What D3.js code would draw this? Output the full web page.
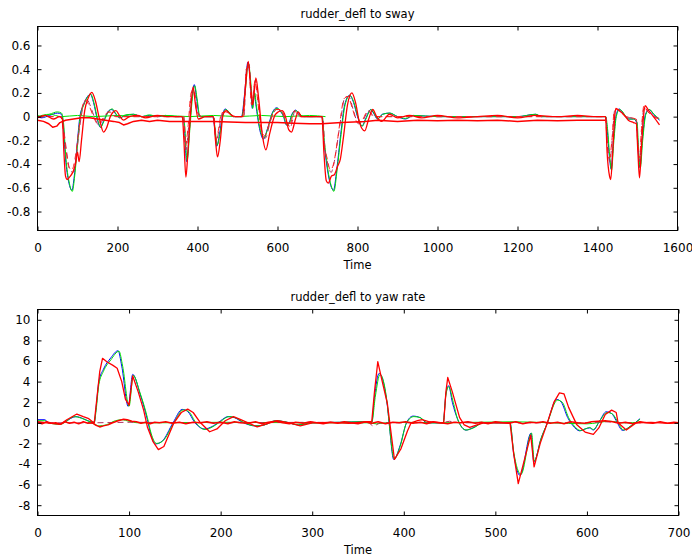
<!DOCTYPE html>
<html>
<head>
<meta charset="utf-8">
<script src="https://cdn.jsdelivr.net/npm/d3@7"></script>
<style>
  body { margin: 0; background: #fff; }
  text { font-family: "DejaVu Sans", Verdana, sans-serif; }
</style>
</head>
<body>
<svg id="chart" width="692" height="556"></svg>
<script>
// ---------- data: [time, value] pairs ----------

// panel 1: rudder_defl to sway
const swayTicksX = [0, 200, 400, 600, 800, 1000, 1200, 1400, 1600];
const swayTicksY = [-0.8, -0.6, -0.4, -0.2, 0, 0.2, 0.4, 0.6];

const swayBlue = [[0,0],[10,-0.01],[30,0.01],[50,0.03],[60,0.02],[64,-0.05],[70,-0.35],[78,-0.55],[86,-0.62],[92,-0.5],[100,-0.2],[106,0],[115,0.1],[125,0.17],[132,0.19],[140,0.12],[150,-0.03],[157,-0.09],[165,-0.04],[178,0.05],[186,0.06],[196,0.02],[205,-0.01],[220,0.01],[240,0.02],[260,0],[280,0.01],[300,0],[320,0.01],[345,0],[360,0],[366,-0.05],[373,-0.38],[380,-0.1],[386,0.15],[392,0.27],[398,0.15],[405,0],[420,0],[438,0],[443,-0.1],[448,-0.25],[455,-0.15],[462,0],[469,0.065],[478,0.04],[490,0],[510,0],[518,0.2],[526,0.46],[532,0.3],[537,0.07],[542,0.2],[546,0.1],[555,-0.1],[565,-0.19],[575,-0.1],[588,0.04],[598,0.075],[606,0.05],[615,0],[622,-0.07],[628,-0.06],[636,0.02],[645,0.055],[655,0.02],[665,0],[700,0],[711,0],[716,-0.2],[725,-0.45],[733,-0.58],[740,-0.62],[748,-0.45],[758,-0.15],[768,0.1],[780,0.18],[790,0.12],[800,0],[811,-0.08],[820,-0.02],[833,0.06],[840,0.03],[850,-0.02],[862,0.02],[880,0.03],[900,0],[920,-0.02],[940,0.01],[1000,0],[1100,0],[1200,0],[1245,0.02],[1260,0],[1300,0],[1420,0],[1424,-0.1],[1430,-0.35],[1434,-0.44],[1440,-0.2],[1446,0],[1454,0.065],[1462,0.04],[1470,0],[1478,-0.02],[1490,-0.02],[1498,-0.05],[1502,-0.3],[1506,-0.43],[1512,-0.2],[1520,0.02],[1529,0.06],[1540,0.02],[1555,-0.03]];

const swayGreen = [[0,0.01],[10,0],[30,0.02],[50,0.04],[60,0.03],[65,-0.05],[71,-0.35],[79,-0.55],[87,-0.63],[93,-0.5],[101,-0.2],[107,0],[116,0.1],[126,0.17],[133,0.19],[141,0.12],[151,-0.03],[158,-0.09],[166,-0.04],[179,0.05],[187,0.065],[197,0.02],[206,-0.01],[220,0.015],[240,0.02],[260,0],[280,0.015],[300,0],[320,0.01],[345,0],[361,0],[367,-0.05],[374,-0.37],[381,-0.1],[387,0.15],[393,0.26],[399,0.15],[406,0],[420,0],[439,0],[444,-0.1],[449,-0.24],[456,-0.15],[463,0],[470,0.06],[479,0.04],[490,0],[511,0],[519,0.2],[527,0.45],[533,0.3],[538,0.07],[543,0.2],[547,0.1],[556,-0.1],[566,-0.18],[576,-0.1],[589,0.04],[599,0.07],[607,0.05],[616,0],[623,-0.07],[629,-0.06],[637,0.02],[646,0.05],[656,0.02],[666,0],[700,0],[712,0],[717,-0.2],[726,-0.45],[734,-0.58],[741,-0.63],[749,-0.45],[759,-0.15],[769,0.1],[781,0.18],[791,0.12],[801,0],[812,-0.08],[821,-0.02],[834,0.06],[841,0.03],[851,-0.02],[863,0.02],[881,0.03],[900,0],[920,-0.015],[940,0.01],[1000,0],[1100,0],[1200,0],[1246,0.02],[1260,0],[1300,0],[1421,0],[1425,-0.1],[1431,-0.35],[1435,-0.45],[1441,-0.2],[1447,0],[1455,0.06],[1463,0.04],[1471,0],[1479,-0.02],[1491,-0.02],[1499,-0.05],[1503,-0.3],[1507,-0.43],[1513,-0.2],[1521,0.02],[1530,0.06],[1541,0.02],[1555,-0.02]];

const swayRed = [[0,-0.01],[20,0.01],[40,-0.02],[55,0],[62,-0.02],[66,-0.3],[70,-0.5],[74,-0.53],[80,-0.51],[88,-0.47],[95,-0.4],[100,-0.3],[104,-0.38],[110,-0.2],[118,0.05],[126,0.15],[136,0.205],[145,0.13],[155,-0.02],[165,-0.13],[172,-0.1],[182,0],[196,0.05],[205,0.01],[215,-0.03],[230,0],[250,0.01],[270,-0.01],[300,0.01],[330,0],[362,0],[366,-0.2],[371,-0.51],[376,-0.3],[382,0],[389,0.25],[395,0.1],[402,-0.02],[420,0],[440,0],[445,-0.2],[450,-0.34],[457,-0.2],[464,0.02],[472,0.05],[482,0.02],[495,0],[512,0],[520,0.25],[527,0.466],[533,0.25],[538,0.1],[546,0.326],[553,0.15],[562,-0.15],[571,-0.28],[580,-0.15],[595,0.02],[612,0.05],[620,0],[628,-0.11],[635,-0.13],[645,-0.02],[652,0.04],[660,0],[700,0],[711,0],[716,-0.3],[722,-0.54],[727,-0.56],[735,-0.5],[742,-0.49],[750,-0.42],[757,-0.36],[765,-0.17],[775,0.1],[786,0.2],[795,0.12],[805,-0.05],[818,-0.12],[828,-0.02],[838,0.06],[848,0],[860,-0.04],[880,0.02],[900,-0.01],[930,0.01],[960,-0.01],[1000,0.01],[1050,-0.01],[1100,0],[1150,0.01],[1200,-0.01],[1245,0.01],[1300,0],[1350,0.01],[1400,0],[1420,0],[1424,-0.3],[1430,-0.5],[1433,-0.53],[1438,-0.3],[1443,0],[1446,0.07],[1455,0.05],[1465,0.02],[1477,-0.03],[1490,-0.05],[1497,-0.06],[1501,-0.3],[1505,-0.516],[1510,-0.25],[1515,0],[1519,0.093],[1528,0.05],[1540,0],[1555,-0.07]];

const swayRedFlat = [[0,-0.03],[15,-0.04],[28,-0.06],[38,-0.09],[48,-0.08],[56,-0.05],[70,-0.03],[90,-0.02],[110,-0.01],[130,-0.01],[150,-0.02],[170,-0.03],[190,-0.04],[205,-0.05],[215,-0.07],[225,-0.06],[240,-0.04],[260,-0.03],[280,-0.04],[300,-0.03],[330,-0.04],[360,-0.04],[400,-0.04],[440,-0.04],[480,-0.045],[520,-0.05],[560,-0.05],[600,-0.05],[640,-0.055],[680,-0.06],[711,-0.06],[760,-0.05],[820,-0.04],[850,-0.03],[900,-0.04],[950,-0.03],[1000,-0.035],[1050,-0.03],[1100,-0.035],[1150,-0.03],[1200,-0.04],[1250,-0.03],[1300,-0.035],[1350,-0.03],[1400,-0.03],[1420,-0.03]];

const swayGreenFlat = [[0,0],[30,0.02],[60,0],[100,0.01],[140,0],[200,0.01],[260,0],[320,0.01],[380,0],[440,0.01],[500,0],[560,0.01],[620,0],[680,0.01],[720,0]];

const swayDashRed = [[0,0],[58,0],[64,-0.1],[70,-0.25],[78,-0.42],[86,-0.45],[94,-0.35],[102,-0.15],[110,0.05],[120,0.14],[128,0.1],[140,0],[150,-0.06],[162,-0.02],[178,0.04],[195,0],[365,0],[370,-0.25],[376,-0.1],[384,0.2],[390,0.22],[398,0.05],[410,0],[440,0],[446,-0.2],[452,-0.12],[460,0.03],[470,0.04],[490,0],[515,0],[522,0.4],[528,0.42],[535,0.1],[544,0.3],[550,0.15],[560,-0.12],[568,-0.16],[580,-0.05],[596,0.06],[608,0.06],[620,-0.03],[630,-0.08],[642,0.05],[655,0],[712,0],[716,-0.22],[724,-0.35],[732,-0.45],[740,-0.4],[750,-0.2],[758,0],[766,0.15],[776,0.17],[788,0.06],[800,-0.05],[812,-0.03],[826,0.05],[840,0],[1420,0],[1424,-0.22],[1430,-0.35],[1436,-0.2],[1442,0.05],[1450,0.06],[1470,0],[1496,-0.02],[1500,-0.2],[1505,-0.35],[1510,-0.1],[1516,0.09],[1524,0.05],[1540,0],[1555,-0.02]];

const swayDashMaroon = [[0,0],[60,0],[66,-0.12],[73,-0.3],[81,-0.45],[89,-0.47],[97,-0.33],[105,-0.1],[113,0.07],[123,0.15],[131,0.1],[143,-0.01],[153,-0.07],[165,-0.02],[180,0.04],[198,0],[366,0],[371,-0.28],[378,-0.08],[386,0.22],[391,0.24],[400,0.04],[412,0],[441,0],[447,-0.22],[454,-0.1],[462,0.03],[472,0.04],[492,0],[516,0],[523,0.42],[529,0.44],[536,0.12],[545,0.31],[552,0.12],[562,-0.14],[570,-0.18],[582,-0.04],[598,0.06],[610,0.05],[622,-0.04],[632,-0.09],[644,0.05],[658,0],[713,0],[718,-0.24],[726,-0.4],[734,-0.47],[742,-0.38],[752,-0.16],[760,0.02],[768,0.16],[778,0.17],[790,0.05],[802,-0.06],[814,-0.03],[828,0.05],[842,0],[1421,0],[1425,-0.24],[1431,-0.38],[1437,-0.18],[1443,0.05],[1452,0.05],[1472,0],[1497,-0.02],[1501,-0.22],[1506,-0.38],[1511,-0.08],[1517,0.08],[1526,0.04],[1542,0],[1555,-0.01]];

// panel 2: rudder_defl to yaw rate
const yawTicksX = [0, 100, 200, 300, 400, 500, 600, 700];
const yawTicksY = [-8, -6, -4, -2, 0, 2, 4, 6, 8, 10];

const yawBlue = [[0,0.3],[8,0.3],[12,0],[25,-0.1],[30,0.1],[42,0.6],[50,0.4],[58,0.1],[62,0.05],[64,1.5],[67,4],[72,5.2],[80,6.3],[88,7],[92,5.5],[99,1.6],[104,4.7],[112,2.8],[120,0.3],[124,-1.2],[129,-2.05],[136,-1.8],[148,0],[158,1.3],[164,1.1],[172,0],[182,-0.6],[192,-0.3],[200,0.2],[208,0.6],[215,0.5],[225,0],[238,-0.3],[248,-0.2],[260,0.2],[270,0.1],[285,-0.2],[300,0],[330,0.05],[355,0.1],[365,0.05],[368,2.5],[373,4.8],[382,1.7],[384,0],[389,-3.56],[396,-2.2],[403,0],[410,0.65],[418,0.5],[425,0],[443,0],[446,2.8],[449,3.6],[453,2],[459,0.3],[468,-0.71],[475,-0.5],[487,0],[516,0],[520,-3],[527,-5.1],[539,-1],[542,-3.8],[550,-1.5],[556,-0.2],[567,2.27],[572,2],[579,0.5],[585,-0.3],[592,-0.78],[598,-0.6],[603,-0.5],[607,-0.7],[614,0.2],[621,1.07],[627,0.9],[632,0.2],[639,-0.74],[648,-0.3],[658,0.4]];

const yawGreen = [[0,0.2],[8,0.2],[12,0],[25,-0.15],[30,0.05],[40,0.6],[48,0.45],[56,0.15],[62,0.05],[64,1.2],[67,3.7],[72,5],[80,6.1],[89,6.95],[93,5.5],[100,1.6],[104.5,4.6],[112,2.9],[120,0.5],[124,-1],[130,-2],[137,-1.75],[149,0],[159,1.25],[165,1.1],[173,0],[183,-0.65],[193,-0.3],[201,0.2],[209,0.6],[216,0.5],[226,0],[238,-0.3],[248,-0.2],[260,0.2],[270,0.1],[285,-0.2],[300,0],[330,0.05],[355,0.1],[365,0.05],[369,2.6],[374,4.7],[382,1.8],[384,0],[389.5,-3.5],[396,-2.3],[403,0],[411,0.6],[418,0.5],[426,0],[443,0],[446,2.7],[449,3.5],[454,2],[459,0.3],[468,-0.7],[476,-0.5],[487,0],[516,0],[520,-2.8],[528,-5],[539.5,-1],[542.5,-3.7],[550,-1.5],[556,-0.2],[568,2.2],[573,2],[580,0.5],[586,-0.3],[593,-0.75],[598,-0.6],[603,-0.45],[607,-0.65],[614,0.2],[622,1],[628,0.85],[633,0.2],[640,-0.7],[648,-0.3],[658,0.35]];

const yawRed = [[0,0.1],[10,0],[25,-0.15],[32,0.3],[43,0.85],[50,0.6],[56,0.4],[60,0.1],[62,0],[65,2.5],[68,5],[71,6.26],[76,5.9],[82,5.6],[87,5.3],[92,4],[96,2.3],[100,1.7],[104,4.55],[110,3],[116,1.2],[120,-0.4],[126,-1.8],[132,-2.6],[138,-2.3],[149,0],[157,1],[164,1.33],[170,1],[178,0],[188,-0.87],[196,-0.6],[205,0.2],[214,0.6],[222,0.3],[230,0],[240,-0.4],[250,-0.1],[262,0.2],[275,0],[287,-0.3],[300,0],[320,0.05],[340,-0.05],[360,0.1],[365,0.1],[368,3],[371.6,5.93],[376,4.2],[382,1.9],[384,0.5],[389.8,-3.56],[397,-2.5],[404,-0.8],[408,0],[415,0.2],[420,0.3],[428,0.1],[440,0],[443.6,0],[446,3],[448,4.4],[453,3],[461,0.5],[466,-0.2],[472,-0.45],[480,-0.2],[487,0],[516,0],[520,-3],[525,-5.9],[532,-3.5],[538.6,-1.2],[542.3,-4.28],[549,-2],[556,-0.2],[564,2],[570,2.9],[575,2.8],[580,1.5],[589,-0.2],[598,-0.9],[607,-1.13],[613,-0.5],[620,0.8],[627,1.23],[632,1],[634,0],[643,-0.7],[654,0],[670,0.05],[690,-0.05],[700,0]];

const yawRedFlat = [[0,0.05],[5,-0.1],[10,0.1],[15,-0.05],[20,0],[25,-0.15],[30,0.1],[35,-0.05],[40,0.05],[45,-0.1],[50,0.1],[55,-0.05],[60,0],[64,-0.25],[68,-0.4],[72,-0.3],[77,-0.2],[82,0],[88,0.2],[94,0.35],[98,0.3],[103,0.15],[108,0.1],[113,-0.05],[118,0.05],[123,-0.1],[128,0.05],[133,0],[140,0.1],[147,-0.05],[155,0.05],[162,-0.1],[170,0.05],[178,0],[185,0.1],[192,-0.05],[200,0.05],[208,-0.1],[215,0.1],[222,0],[230,-0.05],[238,0.1],[245,-0.1],[252,0.05],[260,0.15],[268,0],[275,-0.1],[282,0.05],[290,-0.05],[298,0.1],[305,0],[312,-0.1],[320,0.05],[328,-0.05],[335,0.1],[342,0],[350,-0.1],[358,0.1],[365,-0.05],[372,0.1],[380,-0.1],[388,0.05],[395,0],[402,0.1],[410,-0.05],[418,0.05],[425,-0.1],[432,0.1],[440,0],[448,-0.1],[455,0.05],[462,0],[470,0.1],[478,-0.05],[485,0.05],[492,-0.1],[500,0.1],[508,0],[515,-0.05],[522,0.1],[530,-0.1],[538,0.05],[545,0],[552,0.1],[560,-0.05],[568,0.05],[575,-0.1],[582,0.1],[590,0],[598,-0.05],[605,0.1],[612,0.15],[620,0.2],[628,0.1],[635,-0.05],[642,0.05],[650,-0.1],[658,0.1],[665,0],[672,-0.05],[680,0.1],[688,-0.05],[695,0.05],[700,0]];

const yawGreenFlat = [[55,0.05],[62,-0.1],[67,-0.3],[75,-0.2],[85,0.2],[92,0.3],[100,0.15],[110,0],[130,0],[200,0.05],[300,0],[360,0],[370,-0.1],[380,0],[400,0.05],[440,0],[520,0.1],[560,0],[600,-0.1],[625,0.15],[640,0],[660,0.05]];

const yawDashMaroon = [[0,0],[60,0],[100,0.05],[200,0],[300,0.05],[362,0],[366,-0.3],[370,-0.2],[374,0],[440,0],[450,0.15],[460,0],[515,0],[520,0.15],[525,0],[600,0],[620,0.1],[640,0],[660,0]];

// ---------- drawing ----------
const svg = d3.select('#chart');

function drawPanel(cfg) {
  const x = d3.scaleLinear().domain(cfg.xDomain).range([cfg.left, cfg.right]);
  const y = d3.scaleLinear().domain(cfg.yDomain).range([cfg.bottom, cfg.top]);

  svg.append('defs').append('clipPath').attr('id', cfg.id + '-clip')
    .append('rect')
    .attr('x', cfg.left).attr('y', cfg.top)
    .attr('width', cfg.right - cfg.left).attr('height', cfg.bottom - cfg.top);

  const plotG = svg.append('g').attr('clip-path', `url(#${cfg.id}-clip)`);
  const smooth = d3.line().x(d => x(d[0])).y(d => y(d[1])).curve(d3.curveMonotoneX);
  const raw = d3.line().x(d => x(d[0])).y(d => y(d[1]));

  cfg.series.forEach(s => {
    plotG.append('path')
      .datum(s.data)
      .attr('fill', 'none')
      .attr('stroke', s.color)
      .attr('stroke-width', s.width || 1)
      .attr('stroke-dasharray', s.dash || null)
      .attr('stroke-linejoin', 'round')
      .attr('d', s.smooth ? smooth : raw);
  });

  // frame
  svg.append('rect')
    .attr('x', cfg.left).attr('y', cfg.top)
    .attr('width', cfg.right - cfg.left).attr('height', cfg.bottom - cfg.top)
    .attr('fill', 'none').attr('stroke', '#000').attr('stroke-width', 1);

  const fmt = d => String(+d.toFixed(1));

  // inward ticks on all four sides, labels only bottom / left
  const bottomAx = svg.append('g').attr('transform', `translate(0,${cfg.bottom})`)
    .call(d3.axisBottom(x).tickValues(cfg.xTicks).tickFormat(fmt).tickSizeInner(-4).tickSizeOuter(0).tickPadding(12.5));
  const topAx = svg.append('g').attr('transform', `translate(0,${cfg.top})`)
    .call(d3.axisTop(x).tickValues(cfg.xTicks).tickFormat('').tickSizeInner(-4).tickSizeOuter(0));
  const leftAx = svg.append('g').attr('transform', `translate(${cfg.left},0)`)
    .call(d3.axisLeft(y).tickValues(cfg.yTicks).tickFormat(fmt).tickSizeInner(-4).tickSizeOuter(0).tickPadding(7));
  const rightAx = svg.append('g').attr('transform', `translate(${cfg.right},0)`)
    .call(d3.axisRight(y).tickValues(cfg.yTicks).tickFormat('').tickSizeInner(-4).tickSizeOuter(0));

  [bottomAx, topAx, leftAx, rightAx].forEach(a => {
    a.select('.domain').remove();
    a.attr('font-family', null).attr('font-size', 12);
    a.selectAll('line').attr('stroke', '#000');
    a.selectAll('text').attr('fill', '#000');
  });

  svg.append('text')
    .attr('x', (cfg.left + cfg.right) / 2).attr('y', cfg.top - 9)
    .attr('text-anchor', 'middle').attr('font-size', 11.5)
    .text(cfg.title);

  svg.append('text')
    .attr('x', (cfg.left + cfg.right) / 2).attr('y', cfg.bottom + 38.5)
    .attr('text-anchor', 'middle').attr('font-size', 11.5)
    .text('Time');
}

drawPanel({
  id: 'sway', title: 'rudder_defl to sway',
  left: 37.5, right: 677.5, top: 26.5, bottom: 230.5,
  xDomain: [0, 1600], yDomain: [-0.96, 0.76],
  xTicks: swayTicksX, yTicks: swayTicksY,
  series: [
    { data: swayBlue, color: '#0000ff', smooth: true },
    { data: swayGreen, color: '#00e000', smooth: true },
    { data: swayGreenFlat, color: '#00e000', smooth: true },
    { data: swayDashMaroon, color: '#b03060', dash: '6,4', smooth: true },
    { data: swayDashRed, color: '#ff2020', dash: '6,4', smooth: true },
    { data: swayRedFlat, color: '#ff0000', width: 1.5 },
    { data: swayRed, color: '#ff0000', width: 1.3, smooth: true }
  ]
});

drawPanel({
  id: 'yaw', title: 'rudder_defl to yaw rate',
  left: 37.5, right: 678.5, top: 309.5, bottom: 515.5,
  xDomain: [0, 700], yDomain: [-9, 11],
  xTicks: yawTicksX, yTicks: yawTicksY,
  series: [
    { data: yawBlue, color: '#0000ff', smooth: true },
    { data: yawGreen, color: '#00e000', smooth: true },
    { data: yawGreenFlat, color: '#00e000', smooth: true },
    { data: yawDashMaroon, color: '#b03060', dash: '6,4' },
    { data: yawRedFlat, color: '#ff0000', width: 1.5 },
    { data: yawRed, color: '#ff0000', width: 1.3 }
  ]
});
</script>
</body>
</html>
